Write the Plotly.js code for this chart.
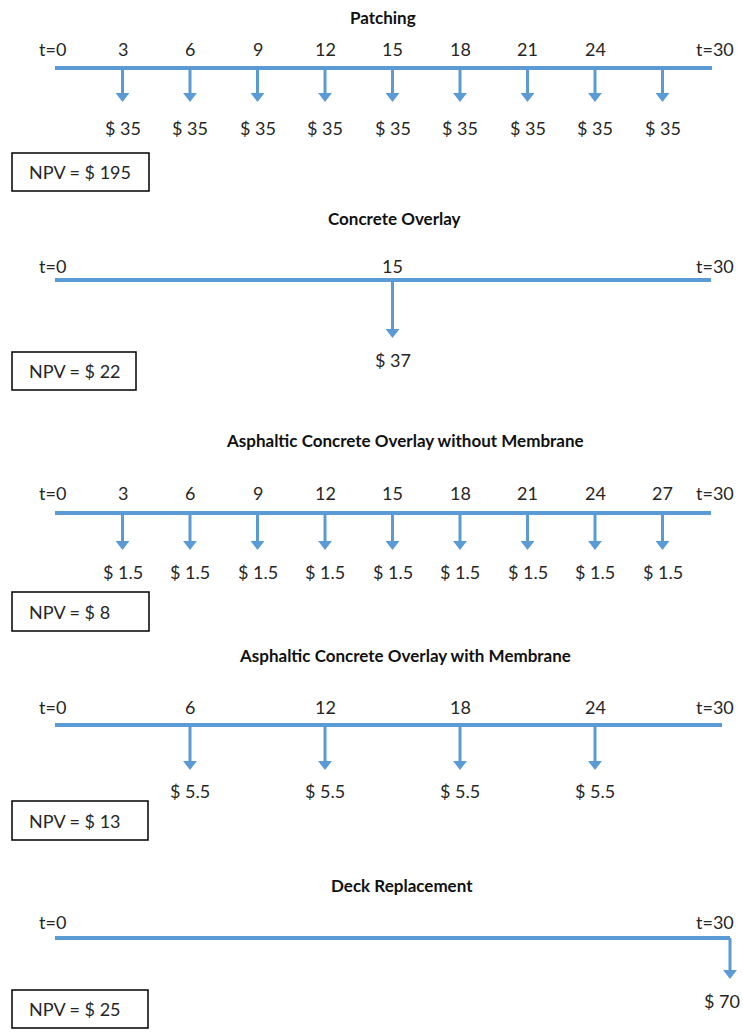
<!DOCTYPE html>
<html>
<head>
<meta charset="utf-8">
<script src="https://cdn.plot.ly/plotly-3.0.1.min.js"></script>
<style>html,body{margin:0;padding:0;background:#fff;}#chart{width:743px;height:1036px;}</style>
</head>
<body>
<div id="chart"></div>
<script>
// ---------------- DATA ----------------
const panelTitles = [
  'Patching',
  'Concrete Overlay',
  'Asphaltic Concrete Overlay without Membrane',
  'Asphaltic Concrete Overlay with Membrane',
  'Deck Replacement'
];
const startYear = 0;
const horizonYear = 30;

const patchingYears = [3, 6, 9, 12, 15, 18, 21, 24, 27];
const patchingCosts = [35, 35, 35, 35, 35, 35, 35, 35, 35];
const patchingTickLabels = ['3', '6', '9', '12', '15', '18', '21', '24', ''];

const concreteYears = [15];
const concreteCosts = [37];
const concreteTickLabels = ['15'];

const acNoMembraneYears = [3, 6, 9, 12, 15, 18, 21, 24, 27];
const acNoMembraneCosts = [1.5, 1.5, 1.5, 1.5, 1.5, 1.5, 1.5, 1.5, 1.5];
const acNoMembraneTickLabels = ['3', '6', '9', '12', '15', '18', '21', '24', '27'];

const acMembraneYears = [6, 12, 18, 24];
const acMembraneCosts = [5.5, 5.5, 5.5, 5.5];
const acMembraneTickLabels = ['6', '12', '18', '24'];

const deckYears = [30];
const deckCosts = [70];
const deckTickLabels = [''];

const npvValues = [195, 22, 8, 13, 25];

// ---------------- STYLE / POSITIONS (pixels) ----------------
const W = 743, H = 1036;
const originPx = 55, pxPerYear = 22.5;
const BLUE = '#5B9BD5';
const TEXT = '#262626';
const FONT = 'Lato, "Open Sans", sans-serif';

const panelsGeom = [
  {top: 0,   bottom: 205,  lineY: 68,  titleY: 17,  labelY: 49,  tipY: 102, costY: 128,  box: [153, 191],  boxRight: 149, titleX: 383, lineEndPx: 712},
  {top: 205, bottom: 420,  lineY: 280, titleY: 218, labelY: 266, tipY: 338, costY: 360,  box: [352, 390],  boxRight: 136, titleX: 394, lineEndPx: 711},
  {top: 420, bottom: 640,  lineY: 513, titleY: 440, labelY: 493, tipY: 550, costY: 572,  box: [592, 631],  boxRight: 149, titleX: 405, lineEndPx: 711},
  {top: 640, bottom: 860,  lineY: 725, titleY: 655, labelY: 707, tipY: 770, costY: 791,  box: [801, 840],  boxRight: 148, titleX: 405, lineEndPx: 722},
  {top: 860, bottom: 1036, lineY: 938, titleY: 885, labelY: 922, tipY: 979, costY: 1001, box: [990, 1028], boxRight: 148, titleX: 402, lineEndPx: 731}
];

const panelData = [
  {years: patchingYears, costs: patchingCosts, ticks: patchingTickLabels},
  {years: concreteYears, costs: concreteCosts, ticks: concreteTickLabels},
  {years: acNoMembraneYears, costs: acNoMembraneCosts, ticks: acNoMembraneTickLabels},
  {years: acMembraneYears, costs: acMembraneCosts, ticks: acMembraneTickLabels},
  {years: deckYears, costs: deckCosts, ticks: deckTickLabels}
];

const headSize = 12;           // triangle marker size
const headR = headSize / 2;

// ---------------- BUILD ----------------
const traces = [];
const annotations = [];
const shapes = [];
const layout = {
  width: W, height: H,
  margin: {l: 0, r: 0, t: 0, b: 0, pad: 0},
  paper_bgcolor: '#fff', plot_bgcolor: '#fff',
  showlegend: false,
  font: {family: FONT, size: 18, color: TEXT}
};

const xRange = [(0 - originPx) / pxPerYear + startYear, (W - originPx) / pxPerYear + startYear];
const pxOfYear = t => originPx + (t - startYear) * pxPerYear;

panelsGeom.forEach((g, i) => {
  const n = i + 1;
  const xa = 'x' + (n === 1 ? '' : n);
  const ya = 'y' + (n === 1 ? '' : n);
  const xKey = 'xaxis' + (n === 1 ? '' : n);
  const yKey = 'yaxis' + (n === 1 ? '' : n);
  const yOf = py => g.lineY - py;   // 1 y-unit = 1 px, up positive, timeline at 0

  layout[xKey] = {range: xRange, visible: false, fixedrange: true, anchor: ya, domain: [0, 1]};
  layout[yKey] = {range: [g.lineY - g.bottom, g.lineY - g.top], visible: false, fixedrange: true,
                  anchor: xa, domain: [1 - g.bottom / H, 1 - g.top / H]};

  const d = panelData[i];
  const lineEndYear = startYear + (g.lineEndPx - originPx) / pxPerYear;

  // timeline
  traces.push({type: 'scatter', mode: 'lines', x: [startYear, Math.min(lineEndYear, horizonYear)], y: [0, 0],
               xaxis: xa, yaxis: ya, line: {color: BLUE, width: 4}, hoverinfo: 'skip', cliponaxis: false});

  // arrow stems
  const sx = [], sy = [];
  const stemEnd = yOf(g.tipY) + headSize * 0.75;
  d.years.forEach(t => { sx.push(t, t, null); sy.push(0, stemEnd, null); });
  traces.push({type: 'scatter', mode: 'lines', x: sx, y: sy, xaxis: xa, yaxis: ya,
               line: {color: BLUE, width: 3}, hoverinfo: 'skip', cliponaxis: false});
  // arrow heads
  traces.push({type: 'scatter', mode: 'markers', x: d.years, y: d.years.map(() => yOf(g.tipY) + headR),
               xaxis: xa, yaxis: ya, hoverinfo: 'skip', cliponaxis: false,
               marker: {symbol: 'triangle-down', size: headSize, color: BLUE, line: {width: 0}}});

  // title
  annotations.push({xref: 'paper', yref: ya, x: g.titleX / W, y: yOf(g.titleY), text: '<b>' + panelTitles[i] + '</b>',
                    showarrow: false, xanchor: 'center', yanchor: 'middle', font: {family: FONT, size: 17, color: '#111'}});

  // t=0 and t=30 labels
  annotations.push({xref: xa, yref: ya, x: startYear, y: yOf(g.labelY), text: 't=' + startYear, showarrow: false,
                    xanchor: 'center', yanchor: 'middle', xshift: -3});
  annotations.push({xref: xa, yref: ya, x: horizonYear, y: yOf(g.labelY), text: 't=' + horizonYear, showarrow: false,
                    xanchor: 'center', yanchor: 'middle', xshift: -15});

  // year labels and cost labels
  d.years.forEach((t, k) => {
    if (d.ticks[k]) {
      annotations.push({xref: xa, yref: ya, x: t, y: yOf(g.labelY), text: d.ticks[k], showarrow: false,
                        xanchor: 'center', yanchor: 'middle'});
    }
    const nearEdge = pxOfYear(t) + 20 > W;
    annotations.push({xref: xa, yref: ya, x: t, y: yOf(g.costY), text: '$ ' + d.costs[k], showarrow: false,
                      xanchor: nearEdge ? 'right' : 'center', yanchor: 'middle',
                      xshift: nearEdge ? (W - 1) - pxOfYear(t) : 0});
  });

  // NPV box
  shapes.push({type: 'rect', xref: 'paper', yref: ya, x0: 12 / W, x1: g.boxRight / W,
               y0: yOf(g.box[1]), y1: yOf(g.box[0]), line: {color: '#000', width: 1.5}, fillcolor: 'rgba(0,0,0,0)'});
  annotations.push({xref: 'paper', yref: ya, x: 27 / W, y: yOf((g.box[0] + g.box[1]) / 2),
                    text: 'NPV = $ ' + npvValues[i], showarrow: false, xanchor: 'left', yanchor: 'middle'});
});

layout.annotations = annotations;
layout.shapes = shapes;

Plotly.newPlot('chart', traces, layout, {staticPlot: true, displayModeBar: false});
</script>
</body>
</html>
